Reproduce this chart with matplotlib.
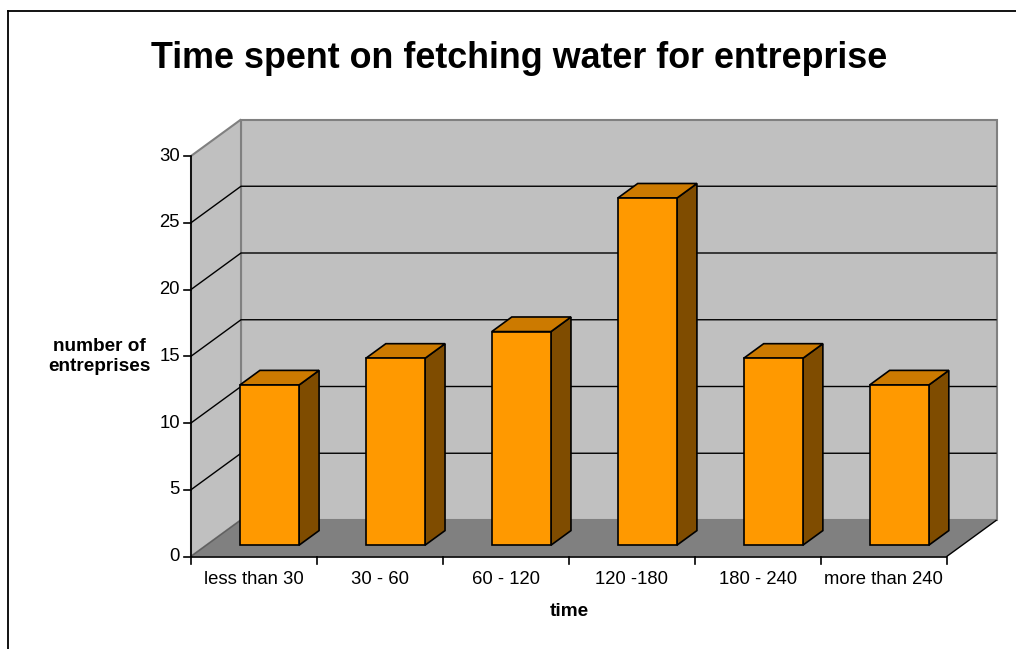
# -*- coding: utf-8 -*-
# Grafico de barras 3D estilo Excel: tiempo dedicado a buscar agua
import matplotlib
matplotlib.use('Agg')
import matplotlib.pyplot as plt
from matplotlib.patches import Polygon
from matplotlib.lines import Line2D
from matplotlib.transforms import offset_copy

# Datos:
categorias = ['less than 30', '30 - 60', '60 - 120', '120 -180', '180 - 240', 'more than 240']
empresas = [12, 14, 16, 26, 14, 12]
ticksY = [0, 5, 10, 15, 20, 25, 30]

plt.rcParams['font.family'] = ['Liberation Sans', 'DejaVu Sans']

W, H = 1016, 649
fig = plt.figure(figsize=(W / 100, H / 100), dpi=100)
ax = fig.add_axes([0, 0, 1, 1])
ax.axis('off')

# Escala (pixeles de la imagen): origen del plano frontal y tamaño de una categoria
x0, y0 = 191.0, 556.5
nCat = len(categorias)
yMax = ticksY[-1]
anchoCat = (946.7 - x0) / nCat
altoUnidad = (y0 - 156.0) / yMax
ax.set_xlim(-x0 / anchoCat, (W - x0) / anchoCat)
ax.set_ylim(-(H - y0) / altoUnidad, y0 / altoUnidad)
# Profundidad del grafico en unidades de datos:
DX = 50.0 / anchoCat
DY = 36.5 / altoUnidad


def proy(x, y, d):
    """Proyeccion oblicua: d=0 plano frontal, d=1 pared de fondo"""
    return (x + d * DX, y + d * DY)


def poli(puntos, fc, ec='none', lw=1.0, z=1):
    ax.add_patch(Polygon(puntos, closed=True, facecolor=fc, edgecolor=ec,
                         linewidth=lw, zorder=z, joinstyle='miter'))


def linea(puntos, color='black', lw=1.0, z=2):
    xs = [p[0] for p in puntos]
    ys = [p[1] for p in puntos]
    ax.plot(xs, ys, color=color, linewidth=lw, zorder=z, solid_capstyle='butt')


# Piso:
poli([proy(0, 0, 0), proy(nCat, 0, 0), proy(nCat, 0, 1), proy(0, 0, 1)], '#808080')
# Pared de fondo:
poli([proy(0, 0, 1), proy(nCat, 0, 1), proy(nCat, yMax, 1), proy(0, yMax, 1)],
     '#C0C0C0', '#808080', 1.5)
# Pared lateral:
poli([proy(0, 0, 0), proy(0, 0, 1), proy(0, yMax, 1), proy(0, yMax, 0)],
     '#C0C0C0', '#808080', 1.5)
linea([proy(0, 0, 0), proy(0, 0, 1)], '#606060', 1.0)
linea([proy(nCat, 0, 0), proy(nCat, 0, 1)], 'black', 1.0)

# Lineas de la cuadricula:
for v in ticksY[1:-1]:
    linea([proy(0, v, 0), proy(0, v, 1), proy(nCat, v, 1)], 'black', 1.0)

# Ejes frontales:
linea([proy(0, 0, 0), proy(0, yMax, 0)], 'black', 1.2, 3)
linea([proy(0, 0, 0), proy(nCat, 0, 0)], 'black', 1.2, 3)

# Marcas y etiquetas del eje Y:
trTickY = offset_copy(ax.transData, fig=fig, x=-7, y=0, units='dots')
trLabY = offset_copy(ax.transData, fig=fig, x=-11, y=0, units='dots')
for v in ticksY:
    ax.add_line(Line2D([0, 7 / anchoCat], [v, v], color='black', lw=1.2,
                       transform=trTickY, zorder=3))
    ax.text(0, v, str(v), ha='right', va='center', fontsize=13.3,
            transform=trLabY)

# Marcas y etiquetas del eje X:
trTickX = offset_copy(ax.transData, fig=fig, x=0, y=-7, units='dots')
for i in range(nCat + 1):
    ax.add_line(Line2D([i, i], [0, 7 / altoUnidad], color='black', lw=1.2,
                       transform=trTickX, zorder=3))

trLabX = offset_copy(ax.transData, fig=fig, x=0, y=-22.5, units='dots')
for i, cat in enumerate(categorias):
    ax.text(i + 0.5, 0, cat, ha='center', va='center', fontsize=13.3,
            transform=trLabX)

# Barras 3D:
medio = 0.235
dFrente, dAtras = 0.31, 0.71
for i, v in enumerate(empresas):
    xc = i + 0.5
    frente = [proy(xc - medio, 0, dFrente), proy(xc + medio, 0, dFrente),
              proy(xc + medio, v, dFrente), proy(xc - medio, v, dFrente)]
    arriba = [proy(xc - medio, v, dFrente), proy(xc + medio, v, dFrente),
              proy(xc + medio, v, dAtras), proy(xc - medio, v, dAtras)]
    lado = [proy(xc + medio, 0, dFrente), proy(xc + medio, 0, dAtras),
            proy(xc + medio, v, dAtras), proy(xc + medio, v, dFrente)]
    poli(lado, '#7F4C00', 'black', 1.2, 5)
    poli(arriba, '#CC7A00', 'black', 1.2, 5)
    poli(frente, '#FF9900', 'black', 1.2, 6)

# Titulos:
fig.text(519 / W, 1 - 58 / H, 'Time spent on fetching water for entreprise',
         ha='center', va='center', fontsize=25.8, fontweight='bold')
fig.text(99 / W, 1 - 356.5 / H, 'number of\nentreprises', ha='center',
         va='center', fontsize=13.7, fontweight='bold', multialignment='center',
         linespacing=1.25)
trTitX = offset_copy(ax.transData, fig=fig, x=0, y=-55.5, units='dots')
ax.text(nCat / 2, 0, 'time', ha='center', va='center', fontsize=13.7,
        fontweight='bold', transform=trTitX)

# Marco exterior (recortado a la derecha y abajo):
fig.add_artist(Line2D([8 / W, 8 / W], [0, 1 - 11 / H], color='black', lw=1.3,
                      transform=fig.transFigure))
fig.add_artist(Line2D([8 / W, 1], [1 - 11 / H, 1 - 11 / H], color='black', lw=1.3,
                      transform=fig.transFigure))

fig.savefig('out.png', dpi=100)
